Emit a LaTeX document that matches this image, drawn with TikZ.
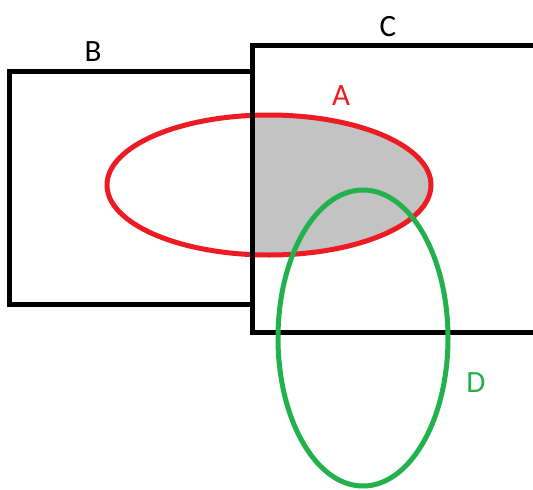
\documentclass[tikz,border=0pt]{standalone}
\usepackage{fontspec}
\setmainfont{Carlito}
\definecolor{pred}{RGB}{237,28,36}
\definecolor{pgreen}{RGB}{34,177,76}
\definecolor{pgray}{RGB}{195,195,195}
\tikzset{
  box/.style={draw=black, line width=5pt},
  lab/.style={font=\fontsize{31}{31}\selectfont, inner sep=0pt}
}
\begin{document}
\begin{tikzpicture}[x=1pt,y=-1pt]
\clip (0,0) rectangle (533,490);
\fill[white] (0,0) rectangle (533,490);
\coordinate (Ac) at (269,185);
\coordinate (Dc) at (363,338);
% shaded A ∩ C
\begin{scope}
  \clip (252,45) rectangle (545,332);
  \fill[pgray] (Ac) ellipse [x radius=162pt, y radius=70pt];
\end{scope}
\draw[pred, line width=5pt] (Ac) ellipse [x radius=162pt, y radius=70pt];
\draw[box] (9,71) rectangle (252,304);
\draw[box] (545,45) -- (252,45) -- (252,332) -- (545,332);
\draw[pgreen, line width=5pt] (Dc) ellipse [x radius=85pt, y radius=148pt];
\node[lab] (B) at (93,52) {B};
\node[lab] (C) at (388,27) {C};
\node[lab, text=pred] (A) at (341,96) {A};
\node[lab, text=pgreen] (D) at (476,383) {D};
\end{tikzpicture}
\end{document}
